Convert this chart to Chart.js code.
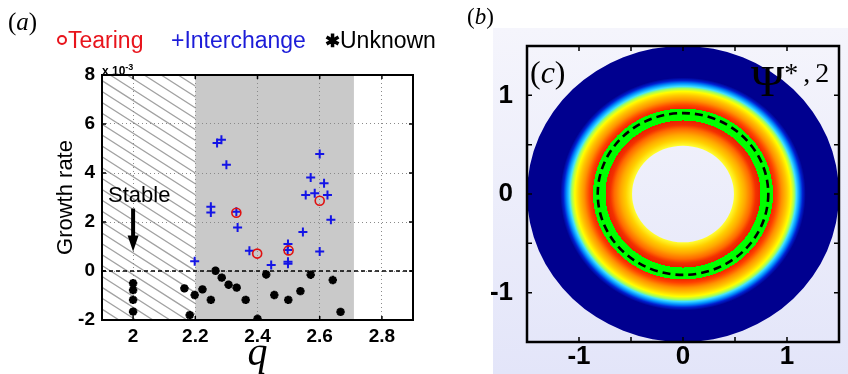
<!DOCTYPE html>
<html>
<head>
<meta charset="utf-8">
<script src="https://cdn.jsdelivr.net/npm/chart.js@4.4.1/dist/chart.umd.min.js"></script>
<style>
body { margin: 0; width: 848px; height: 374px; position: relative; overflow: hidden; background: #fff; font-family: "Liberation Sans", Arial, sans-serif; }
#wa { position: absolute; left: 0; top: 0; width: 440px; height: 374px; }
#bgB { position: absolute; left: 493px; top: 28px; width: 355px; height: 346px; background: linear-gradient(#f5f5fc, #e3e5f9); }
#wb { position: absolute; left: 440px; top: 0; width: 408px; height: 374px; }
.lbl { position: absolute; white-space: nowrap; line-height: 22px; }
.serif { font-family: "Liberation Serif", "Times New Roman", serif; }
</style>
</head>
<body>
<div id="wa"><canvas id="chartA"></canvas></div>
<div id="bgB"></div>
<div id="wb"><canvas id="chartB"></canvas></div>

<div class="lbl serif" style="left:8px;top:8px;font-size:25px;line-height:28px">(<i>a</i>)</div>
<div class="lbl serif" style="left:467px;top:4px;font-size:23px;line-height:26px">(<i>b</i>)</div>

<div class="lbl" style="left:57px;top:29px;font-size:23px;color:#e8141c"><span style="display:inline-block;width:6px;height:6px;border:2px solid #e8141c;border-radius:50%;vertical-align:3px;margin-right:1px"></span>Tearing</div>
<div class="lbl" style="left:171px;top:29px;font-size:23px;color:#1c1cd8">+Interchange</div>
<div class="lbl" style="left:325px;top:29px;font-size:23px;color:#000"><span style="font-size:18px;font-weight:bold;vertical-align:1px">&#x2731;</span>Unknown</div>

<div class="lbl" style="left:102px;top:61px;font-size:12px;line-height:12px;font-weight:bold">x 10<sup style="font-size:9px">-3</sup></div>
<div class="lbl" style="left:108px;top:184px;font-size:22px">Stable</div>

<div class="lbl serif" style="left:530px;top:54px;font-size:32px;line-height:36px">(<i>c</i>)</div>
<div class="lbl serif" style="left:751px;top:50px;font-size:45px;line-height:46px">&Psi;<span style="font-size:28px;vertical-align:14px;letter-spacing:5px">*,2</span></div>

<script>
// panel (a): growth rate (x 10^-3) versus q
const tearingQ = [2.332, 2.399, 2.500, 2.600];
const tearingGamma = [2.38, 0.71, 0.84, 2.87];

const interchangeQ = [2.270, 2.284, 2.300, 2.600, 2.571, 2.614, 2.555, 2.584, 2.625, 2.636, 2.250, 2.250,
                      2.332, 2.336, 2.198, 2.374, 2.444, 2.498, 2.497, 2.498, 2.498, 2.546, 2.600];
const interchangeGamma = [5.22, 5.36, 4.34, 4.78, 3.82, 3.58, 3.10, 3.17, 3.10, 2.09, 2.62, 2.39,
                          2.42, 1.78, 0.40, 0.83, 0.24, 1.10, 0.86, 0.38, 0.30, 1.59, 0.80];

const unknownQ = [2.000, 2.000, 2.000, 2.000, 2.165, 2.182, 2.198, 2.223, 2.250, 2.265, 2.285,
                  2.307, 2.333, 2.362, 2.428, 2.454, 2.499, 2.538, 2.571, 2.642, 2.667, 2.400];
const unknownGamma = [-0.50, -0.78, -1.18, -1.66, -0.71, -1.80, -0.98, -0.75, -1.18, 0.01, -0.27,
                      -0.56, -0.68, -1.18, -0.14, -0.98, -1.18, -0.82, -0.15, -0.37, -1.67, -1.95];

const qTicks = [2, 2.2, 2.4, 2.6, 2.8];
const gammaTicks = [-2, 0, 2, 4, 6, 8];
const stableRange = [1.9, 2.2];     // hatched
const unstableRange = [2.2, 2.71];  // grey
const stableArrowQ = 2;
const stableArrowGamma = [2.55, 0.8];

// panel (b): ring profile of Psi*,2
const ringRadius = [0.49, 0.55, 0.60, 0.66, 0.70, 0.745, 0.745, 0.865, 0.865, 0.90, 0.95, 1.00, 1.04, 1.07, 1.09, 1.12, 1.15, 1.18, 1.5];
const ringColors = ['#ffff30', '#ffd000', '#ffa800', '#ff6a00', '#f43000', '#e82000', '#00ff00', '#00ff00', '#f02800',
                    '#ff4000', '#ff9000', '#ffc800', '#ffff00', '#a0ff60', '#40e0ff', '#0090ff', '#0020d0', '#00008f', '#00008f'];
const innerRadius = 0.49;
const outerRadius = 1.5;
const dashedRadius = 0.82;
const bTicks = [-1, -0.5, 0, 0.5, 1];

const pts = (xs, ys) => xs.map((v, i) => ({x: v, y: ys[i]}));

// inward tick marks and black frame, matlab style
function drawFrame(chart, len, width) {
    const {ctx, chartArea: a, scales: {x, y}} = chart;
    ctx.save();
    ctx.strokeStyle = '#000';
    ctx.lineWidth = 1.5;
    ctx.beginPath();
    x.ticks.forEach(t => {
        const px = x.getPixelForValue(t.value);
        ctx.moveTo(px, a.bottom); ctx.lineTo(px, a.bottom - len);
        ctx.moveTo(px, a.top); ctx.lineTo(px, a.top + len);
    });
    y.ticks.forEach(t => {
        const py = y.getPixelForValue(t.value);
        ctx.moveTo(a.left, py); ctx.lineTo(a.left + len, py);
        ctx.moveTo(a.right, py); ctx.lineTo(a.right - len, py);
    });
    ctx.stroke();
    ctx.lineWidth = width;
    ctx.strokeRect(a.left, a.top, a.right - a.left, a.bottom - a.top);
    ctx.restore();
}

const regionPlugin = {
    id: 'regions',
    beforeDraw(chart) {
        const {ctx, chartArea: a, scales: {x}} = chart;
        const h = a.bottom - a.top;
        ctx.save();
        const g0 = x.getPixelForValue(unstableRange[0]);
        const g1 = x.getPixelForValue(unstableRange[1]);
        ctx.fillStyle = '#c9c9c9';
        ctx.fillRect(g0, a.top, g1 - g0, h);

        const h0 = x.getPixelForValue(stableRange[0]);
        const h1 = x.getPixelForValue(stableRange[1]);
        ctx.beginPath();
        ctx.rect(h0, a.top, h1 - h0, h);
        ctx.clip();
        ctx.strokeStyle = '#a2a2a2';
        ctx.lineWidth = 1.3;
        const slope = 0.64, step = 17;
        ctx.beginPath();
        for (let sx = h0 - h / slope; sx < h1; sx += step) {
            ctx.moveTo(sx, a.top);
            ctx.lineTo(sx + h / slope, a.bottom);
        }
        ctx.stroke();
        ctx.restore();
    },
    beforeDatasetsDraw(chart) {
        const {ctx, chartArea: a, scales: {x, y}} = chart;
        ctx.save();
        // zero line
        const y0 = y.getPixelForValue(0);
        ctx.strokeStyle = '#000';
        ctx.lineWidth = 1.5;
        ctx.setLineDash([4, 3]);
        ctx.beginPath();
        ctx.moveTo(a.left, y0); ctx.lineTo(a.right, y0);
        ctx.stroke();
        ctx.setLineDash([]);
        // "Stable" arrow
        const ax = x.getPixelForValue(stableArrowQ);
        const top = y.getPixelForValue(stableArrowGamma[0]);
        const tip = y.getPixelForValue(stableArrowGamma[1]);
        ctx.lineWidth = 4;
        ctx.beginPath();
        ctx.moveTo(ax, top); ctx.lineTo(ax, tip - 12);
        ctx.stroke();
        ctx.fillStyle = '#000';
        ctx.beginPath();
        ctx.moveTo(ax - 5.5, tip - 16);
        ctx.lineTo(ax + 5.5, tip - 16);
        ctx.lineTo(ax, tip);
        ctx.closePath();
        ctx.fill();
        ctx.restore();
    },
    afterDraw(chart) {
        drawFrame(chart, 4, 2);
    }
};

const boldTicks = {family: '"Liberation Sans", Arial, sans-serif', size: 19, weight: 'bold'};

new Chart(document.getElementById('chartA'), {
    type: 'scatter',
    data: {
        datasets: [
            {label: 'Tearing', data: pts(tearingQ, tearingGamma), pointStyle: 'circle', pointRadius: 4.5,
             borderColor: '#e01010', backgroundColor: 'rgba(0,0,0,0)', borderWidth: 1.6},
            {label: 'Interchange', data: pts(interchangeQ, interchangeGamma), pointStyle: 'cross', pointRadius: 4.5,
             borderColor: '#1414e6', backgroundColor: '#1414e6', borderWidth: 2},
            {label: 'Unknown', data: pts(unknownQ, unknownGamma), pointStyle: 'star', pointRadius: 4.2,
             borderColor: '#000', backgroundColor: '#000', borderWidth: 2.6}
        ]
    },
    options: {
        responsive: true,
        maintainAspectRatio: false,
        animation: false,
        events: [],
        layout: {padding: {left: 0, top: 75, right: 27, bottom: 0}},
        plugins: {legend: {display: false}, tooltip: {enabled: false}},
        scales: {
            x: {
                type: 'linear', min: 1.9, max: 2.9,
                afterBuildTicks: s => { s.ticks = qTicks.map(v => ({value: v})); },
                afterFit: s => { s.height = 54; },
                ticks: {color: '#000', font: Object.assign({lineHeight: 1}, boldTicks), padding: 7, maxRotation: 0, callback: v => String(v)},
                grid: {color: '#8a8a8a', lineWidth: 1, drawTicks: false},
                border: {display: false, dash: [1, 3]},
                title: {display: true, text: 'q', color: '#000', padding: {top: 0, bottom: 0},
                        font: {family: '"Liberation Serif", "Times New Roman", serif', size: 40, style: 'italic', lineHeight: 1}}
            },
            y: {
                type: 'linear', min: -2, max: 8,
                afterBuildTicks: s => { s.ticks = gammaTicks.map(v => ({value: v})); },
                afterFit: s => { s.width = 102; },
                ticks: {color: '#000', font: boldTicks, padding: 7},
                grid: {color: '#8a8a8a', lineWidth: 1, drawTicks: false},
                border: {display: false, dash: [1, 3]},
                title: {display: true, text: 'Growth rate', color: '#000', padding: {top: 53, bottom: 0},
                        font: {family: '"Liberation Sans", Arial, sans-serif', size: 22}}
            }
        }
    },
    plugins: [regionPlugin]
});

const ringPlugin = {
    id: 'rings',
    beforeDatasetsDraw(chart) {
        const {ctx, scales: {x, y}} = chart;
        const cx = x.getPixelForValue(0), cy = y.getPixelForValue(0);
        const rx = x.getPixelForValue(outerRadius) - cx;
        const ry = cy - y.getPixelForValue(outerRadius);
        ctx.save();
        ctx.translate(cx, cy);
        ctx.scale(1, ry / rx);
        const g = ctx.createRadialGradient(0, 0, 0, 0, 0, rx);
        ringRadius.forEach((r, i) => g.addColorStop(r / outerRadius, ringColors[i]));
        ctx.beginPath();
        ctx.arc(0, 0, rx, 0, Math.PI * 2);
        ctx.arc(0, 0, rx * innerRadius / outerRadius, 0, Math.PI * 2, true);
        ctx.fillStyle = g;
        ctx.fill();
        ctx.restore();

        ctx.save();
        ctx.strokeStyle = '#000';
        ctx.lineWidth = 2.6;
        ctx.setLineDash([8, 5]);
        ctx.beginPath();
        ctx.ellipse(cx, cy, rx * dashedRadius / outerRadius, ry * dashedRadius / outerRadius, 0, 0, Math.PI * 2);
        ctx.stroke();
        ctx.restore();
    },
    afterDraw(chart) {
        drawFrame(chart, 5, 2.5);
    }
};

const bigTicks = {family: '"Liberation Sans", Arial, sans-serif', size: 26, weight: 'bold', lineHeight: 1};
const intLabel = v => (Number.isInteger(v) ? String(v) : '');

new Chart(document.getElementById('chartB'), {
    type: 'scatter',
    data: {datasets: [{data: []}]},
    options: {
        responsive: true,
        maintainAspectRatio: false,
        animation: false,
        events: [],
        layout: {padding: {left: 0, top: 46, right: 9, bottom: 0}},
        plugins: {legend: {display: false}, tooltip: {enabled: false}},
        scales: {
            x: {
                type: 'linear', min: -1.5, max: 1.5,
                afterBuildTicks: s => { s.ticks = bTicks.map(v => ({value: v})); },
                afterFit: s => { s.height = 32; },
                ticks: {color: '#000', font: bigTicks, padding: -6, maxRotation: 0, autoSkip: false, callback: intLabel},
                grid: {display: false},
                border: {display: false}
            },
            y: {
                type: 'linear', min: -1.5, max: 1.5,
                afterBuildTicks: s => { s.ticks = bTicks.map(v => ({value: v})); },
                afterFit: s => { s.width = 87; },
                ticks: {color: '#000', font: bigTicks, padding: 6, autoSkip: false, callback: intLabel},
                grid: {display: false},
                border: {display: false}
            }
        }
    },
    plugins: [ringPlugin]
});
</script>
</body>
</html>
